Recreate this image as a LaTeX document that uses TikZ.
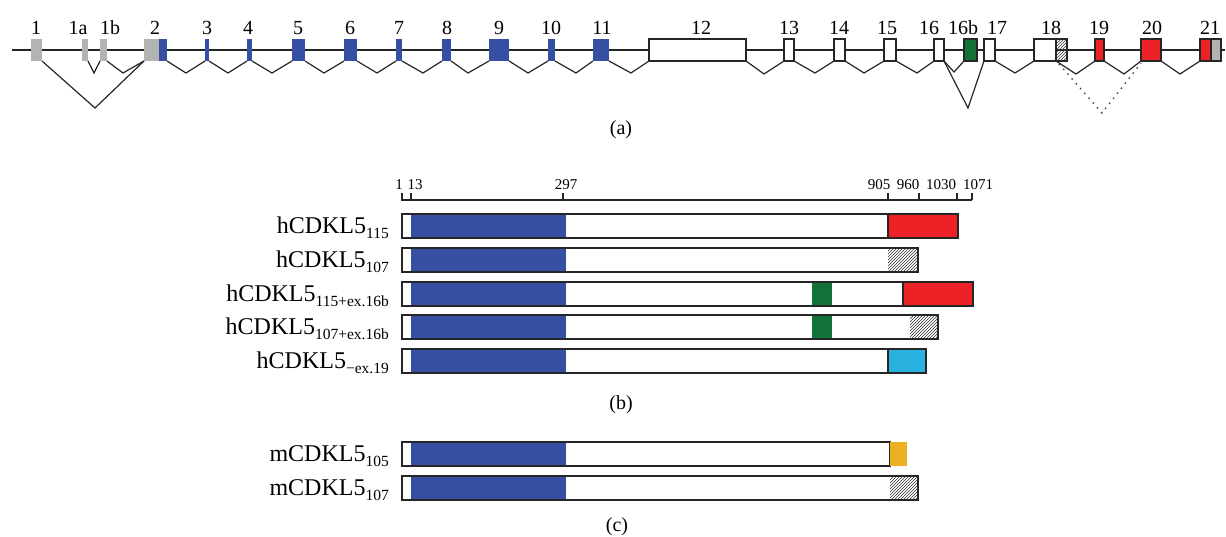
\documentclass[tikz,border=0pt]{standalone}
\usepackage{fontspec}
\setmainfont{Liberation Serif}
\usetikzlibrary{patterns}
\definecolor{cblue}{RGB}{53,80,163}
\definecolor{cgray}{RGB}{179,179,179}
\definecolor{cred}{RGB}{236,34,39}
\definecolor{cgreen}{RGB}{18,114,56}
\definecolor{ccyan}{RGB}{41,177,224}
\definecolor{cyell}{RGB}{235,176,34}
\newcommand\sbx[1]{\raisebox{-5pt}{\fontsize{15.5}{15.5}\selectfont #1}}
% exon: name, x1, x2, style
\newcommand\exn[4]{\node[exon,#4,minimum width={(#3-#2)*1pt}] (#1) at ({(#2+#3)/2},50) {};}
% segment: name, x1, x2, ycenter, style
\newcommand\seg[5]{\node[segbox,#5,minimum width={(#3-#2)*1pt}] (#1) at ({(#2+#3)/2},#4) {};}
\tikzset{
  exon/.style={inner sep=0pt,outer sep=0pt,minimum height=22pt,line width=1.1pt},
  outl/.style={draw=black!85},
  segbox/.style={inner sep=0pt,outer sep=0pt,minimum height=24pt,line width=1.1pt},
  hatch/.style={pattern=north east lines,pattern color=black!80},
  toplab/.style={anchor=base,font=\fontsize{20}{20}\selectfont,inner sep=0pt},
  axlab/.style={anchor=base,font=\fontsize{15}{15}\selectfont,inner sep=0pt},
  rowlab/.style={anchor=base east,font=\fontsize{24}{24}\selectfont,inner sep=0pt},
  capt/.style={font=\fontsize{20}{20}\selectfont,inner sep=0pt},
  spl/.style={line width=1.2pt,black!85},
}
\begin{document}
\begin{tikzpicture}[x=1pt,y=-1pt]
\useasboundingbox (0,0) rectangle (1226,536);
% ---------------- (a) gene structure
\coordinate (bbL) at (12,50);
\coordinate (bbR) at (1225,50);
\draw[spl] (bbL) -- (bbR);
\exn{e1}{31}{42}{fill=cgray}
\exn{e1a}{82}{88}{fill=cgray}
\exn{e1b}{100}{107}{fill=cgray}
\exn{e2g}{144}{159}{fill=cgray}
\exn{e2b}{159}{167}{fill=cblue}
\exn{e3}{205}{209}{fill=cblue}
\exn{e4}{247}{252}{fill=cblue}
\exn{e5}{292}{305}{fill=cblue}
\exn{e6}{344}{357}{fill=cblue}
\exn{e7}{396}{402}{fill=cblue}
\exn{e8}{442}{451}{fill=cblue}
\exn{e9}{489}{509}{fill=cblue}
\exn{e10}{548}{555}{fill=cblue}
\exn{e11}{593}{609}{fill=cblue}
\exn{e12}{649}{746}{fill=white,outl}
\exn{e13}{784}{794}{fill=white,outl}
\exn{e14}{834}{845}{fill=white,outl}
\exn{e15}{884}{896}{fill=white,outl}
\exn{e16}{934}{944}{fill=white,outl}
\exn{e16b}{964}{977}{fill=cgreen,outl}
\exn{e17}{984}{995}{fill=white,outl}
\exn{e18w}{1034}{1056}{fill=white,outl}
\exn{e18h}{1056}{1067}{hatch,outl}
\exn{e19}{1095}{1104}{fill=cred,outl}
\exn{e20}{1141}{1161}{fill=cred,outl}
\exn{e21r}{1200}{1211}{fill=cred,outl}
\exn{e21g}{1211}{1221}{fill=cgray,outl}
% exon labels
\node[toplab] (t1) at (36,34) {1};
\node[toplab] (t1a) at (78,34) {1a};
\node[toplab] (t1b) at (110,34) {1b};
\node[toplab] (t2) at (155,34) {2};
\node[toplab] (t3) at (207,34) {3};
\node[toplab] (t4) at (248,34) {4};
\node[toplab] (t5) at (298,34) {5};
\node[toplab] (t6) at (350,34) {6};
\node[toplab] (t7) at (399,34) {7};
\node[toplab] (t8) at (447,34) {8};
\node[toplab] (t9) at (499,34) {9};
\node[toplab] (t10) at (551,34) {10};
\node[toplab] (t11) at (602,34) {11};
\node[toplab] (t12) at (701,34) {12};
\node[toplab] (t13) at (789,34) {13};
\node[toplab] (t14) at (839,34) {14};
\node[toplab] (t15) at (887,34) {15};
\node[toplab] (t16) at (929,34) {16};
\node[toplab] (t16b) at (963,34) {16b};
\node[toplab] (t17) at (997,34) {17};
\node[toplab] (t18) at (1051,34) {18};
\node[toplab] (t19) at (1099,34) {19};
\node[toplab] (t20) at (1152,34) {20};
\node[toplab] (t21) at (1210,34) {21};
% splice connectors
\coordinate (v1) at (95,108);
\coordinate (v1a) at (94,73);
\coordinate (v1b) at (123,73);
\coordinate (v2) at (186,73);
\coordinate (v3) at (228,73);
\coordinate (v4) at (272,73);
\coordinate (v5) at (324,73);
\coordinate (v6) at (377,73);
\coordinate (v7) at (423,73);
\coordinate (v8) at (468,73);
\coordinate (v9) at (528,73);
\coordinate (v10) at (576,73);
\coordinate (v11) at (631,73);
\coordinate (v12) at (764,74);
\coordinate (v13) at (815,73);
\coordinate (v14) at (864,73);
\coordinate (v15) at (917,73);
\coordinate (v16s) at (954,72);
\coordinate (v16) at (968,108);
\coordinate (v17) at (1015,73);
\coordinate (v18) at (1076,74);
\coordinate (v18d) at (1102,113);
\coordinate (v19) at (1124,74);
\coordinate (v20) at (1180,74);
\draw[spl] (e1.south east) -- (v1) -- (e2g.south west);
\draw[spl] (e1a.south east) -- (v1a) -- (e1b.south west);
\draw[spl] (e1b.south east) -- (v1b) -- (e2g.south west);
\draw[spl] (e2b.south east) -- (v2) -- (e3.south west);
\draw[spl] (e3.south east) -- (v3) -- (e4.south west);
\draw[spl] (e4.south east) -- (v4) -- (e5.south west);
\draw[spl] (e5.south east) -- (v5) -- (e6.south west);
\draw[spl] (e6.south east) -- (v6) -- (e7.south west);
\draw[spl] (e7.south east) -- (v7) -- (e8.south west);
\draw[spl] (e8.south east) -- (v8) -- (e9.south west);
\draw[spl] (e9.south east) -- (v9) -- (e10.south west);
\draw[spl] (e10.south east) -- (v10) -- (e11.south west);
\draw[spl] (e11.south east) -- (v11) -- (e12.south west);
\draw[spl] (e12.south east) -- (v12) -- (e13.south west);
\draw[spl] (e13.south east) -- (v13) -- (e14.south west);
\draw[spl] (e14.south east) -- (v14) -- (e15.south west);
\draw[spl] (e15.south east) -- (v15) -- (e16.south west);
\draw[spl] (e16.south east) -- (v16s) -- (e16b.south west);
\draw[spl] (e16.south east) -- (v16) -- (e17.south west);
\draw[spl] (e17.south east) -- (v17) -- (e18w.south west);
\draw[spl] (e18w.south east) -- (v18) -- (e19.south west);
\draw[spl] (e19.south east) -- (v19) -- (e20.south west);
\draw[spl] (e20.south east) -- (v20) -- (e21r.south west);
\draw[line width=1.4pt,black!75,dash pattern=on 1.4pt off 5pt] ([xshift=3pt,yshift=-3pt]e18h.south west) -- (v18d) -- ([yshift=-2pt]e20.south west);
\node[capt] (capa) at (621,130) {(a)};
% ---------------- (b) axis
\coordinate (axL) at (401,200);
\coordinate (axR) at (972,200);
\draw[spl] (axL) -- (axR);
\foreach \p in {402,411,563,888,919,957,972} \draw[spl] (\p,200) -- (\p,193);
\node[axlab] (a1) at (399,189) {1};
\node[axlab] (a13) at (415,189) {13};
\node[axlab] (a297) at (566,189) {297};
\node[axlab] (a905) at (879,189) {905};
\node[axlab] (a960) at (908,189) {960};
\node[axlab] (a1030) at (941,189) {1030};
\node[axlab] (a1071) at (978,189) {1071};
% rows
% row 1
\seg{b1k}{411}{566}{226}{fill=cblue}
\seg{b1r}{888}{958}{226}{fill=cred,outl}
\seg{b1}{402}{958}{226}{outl}
\node[rowlab] (l1) at (389,233) {hCDKL5\sbx{115}};
% row 2
\seg{b2k}{411}{566}{260}{fill=cblue}
\seg{b2h}{888}{918}{260}{hatch}
\seg{b2}{402}{918}{260}{outl}
\node[rowlab] (l2) at (389,267) {hCDKL5\sbx{107}};
% row 3
\seg{b3k}{411}{566}{294}{fill=cblue}
\seg{b3g}{812}{832}{294}{fill=cgreen}
\seg{b3r}{903}{973}{294}{fill=cred,outl}
\seg{b3}{402}{973}{294}{outl}
\node[rowlab] (l3) at (389,301) {hCDKL5\sbx{115+ex.16b}};
% row 4
\seg{b4k}{411}{566}{327}{fill=cblue}
\seg{b4g}{812}{832}{327}{fill=cgreen}
\seg{b4h}{910}{938}{327}{hatch}
\seg{b4}{402}{938}{327}{outl}
\node[rowlab] (l4) at (389,334) {hCDKL5\sbx{107+ex.16b}};
% row 5
\seg{b5k}{411}{566}{361}{fill=cblue}
\seg{b5c}{888}{926}{361}{fill=ccyan,outl}
\seg{b5}{402}{926}{361}{outl}
\node[rowlab] (l5) at (389,368) {hCDKL5\sbx{\char"2212 ex.19}};
\node[capt] (capb) at (621,405) {(b)};
% ---------------- (c)
\seg{c1k}{411}{566}{454}{fill=cblue}
\seg{c1}{402}{890}{454}{outl}
\seg{c1y}{890}{907}{454}{fill=cyell}
\node[rowlab] (m1) at (389,461) {mCDKL5\sbx{105}};
\seg{c2k}{411}{566}{488}{fill=cblue}
\seg{c2h}{890}{918}{488}{hatch}
\seg{c2}{402}{918}{488}{outl}
\node[rowlab] (m2) at (389,495) {mCDKL5\sbx{107}};
\node[capt] (capc) at (617,527) {(c)};
\end{tikzpicture}
\end{document}
